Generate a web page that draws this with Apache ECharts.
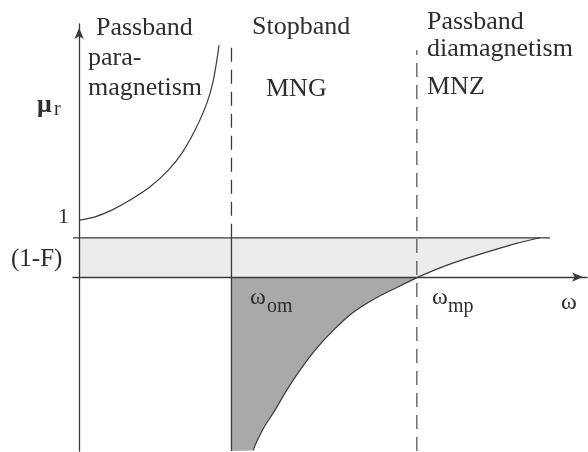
<!DOCTYPE html>
<html>
<head>
<meta charset="utf-8">
<script src="https://cdn.jsdelivr.net/npm/echarts@6/dist/echarts.min.js"></script>
<style>
  html, body { margin: 0; padding: 0; background: #fff; }
  #chart { width: 588px; height: 452px; }
</style>
</head>
<body>
<div id="chart"></div>
<script>
// Magnetic permeability mu_r versus frequency omega (Lorentz-type dispersion).
const xRange = [-0.12, 10];
const yRange = [-3.05, 4.44];

// Characteristic levels
const omegaOm = 3.0;      // magnetic resonance frequency
const omegaMp = 6.65;     // magnetic plasma frequency
const oneMinusF = 0.69;   // high-frequency limit (1-F)

// Branch below resonance: paramagnetic passband, mu_r > 1
const lowBranch = [
  [0, 1.0], [0.315, 1.058], [0.644, 1.175], [1.004, 1.351], [1.398, 1.584],
  [1.758, 1.877], [2.022, 2.170], [2.283, 2.579], [2.514, 3.047],
  [2.644, 3.456], [2.756, 4.070]
];

// Branch above resonance: negative in the stopband, rising towards (1-F)
const highBranchNeg = [
  [3.43, -3.04], [3.465, -2.947], [3.628, -2.654], [3.858, -2.333],
  [4.089, -1.982], [4.350, -1.632], [4.646, -1.281], [4.974, -0.960],
  [5.368, -0.637], [5.827, -0.374], [6.285, -0.170], [6.67, 0]
];
const highBranchPos = [
  [6.67, 0], [7.106, 0.163], [7.632, 0.328], [8.156, 0.474],
  [8.616, 0.591], [9.075, 0.69]
];
const limitLineEnd = 9.27;

const lineColor = '#3a3a3a';
const textColor = '#2e2e2e';
const serif = '"Liberation Serif", "DejaVu Serif", serif';

// Shaded regions built from the curve points above
const bandPoly = [[0, 0], [0, oneMinusF]].concat(highBranchPos.slice().reverse());
const negPoly = [[omegaOm, 0], [omegaOm, yRange[0]]].concat(highBranchNeg);

function polygonSeries(points, fill) {
  return {
    type: 'custom',
    silent: true,
    clip: true,
    z: 1,
    data: [0],
    renderItem: function (params, api) {
      return {
        type: 'polygon',
        shape: { points: points.map(function (p) { return api.coord(p); }), smooth: 0 },
        style: { fill: fill, stroke: null }
      };
    }
  };
}

function lineSeries(data, type, width, smooth) {
  return {
    type: 'line',
    data: data,
    showSymbol: false,
    symbol: 'none',
    silent: true,
    smooth: smooth || false,
    z: 3,
    lineStyle: { color: lineColor, width: width || 1.3, type: type || 'solid' }
  };
}

function label(text, x, baseline, size, weight) {
  return {
    type: 'text',
    silent: true,
    z: 10,
    x: x,
    y: baseline - 0.3 * size,
    style: {
      text: text,
      fill: textColor,
      font: (weight ? weight + ' ' : '') + size + 'px ' + serif,
      textAlign: 'left',
      textVerticalAlign: 'middle',
      align: 'left',
      verticalAlign: 'middle'
    }
  };
}

const chart = echarts.init(document.getElementById('chart'), null, { renderer: 'canvas' });

chart.setOption({
  animation: false,
  backgroundColor: '#ffffff',
  grid: { left: 73, right: 1, top: 24, bottom: 1, containLabel: false },
  xAxis: {
    type: 'value',
    min: xRange[0],
    max: xRange[1],
    z: 5,
    axisLine: {
      onZero: true,
      symbol: ['none', 'arrow'],
      symbolSize: [7, 11],
      symbolOffset: [0, -4],
      lineStyle: { color: lineColor, width: 1.3 }
    },
    axisTick: { show: false },
    axisLabel: { show: false },
    splitLine: { show: false }
  },
  yAxis: {
    type: 'value',
    min: yRange[0],
    max: yRange[1],
    z: 5,
    axisLine: {
      onZero: true,
      symbol: ['none', 'arrow'],
      symbolSize: [7, 11],
      symbolOffset: [0, -4],
      lineStyle: { color: lineColor, width: 1.3 }
    },
    axisTick: { show: false },
    axisLabel: { show: false },
    splitLine: { show: false }
  },
  series: [
    polygonSeries(bandPoly, '#ececec'),
    polygonSeries(negPoly, '#a9a9a9'),
    lineSeries([[xRange[0], oneMinusF], [limitLineEnd, oneMinusF]]),
    lineSeries([[omegaOm, yRange[0]], [omegaOm, oneMinusF]]),
    lineSeries([[omegaOm, oneMinusF], [omegaOm, 4.1]], [14, 8]),
    lineSeries([[omegaMp, yRange[0]], [omegaMp, 3.98]], [14, 8], 1.1),
    lineSeries(lowBranch, 'solid', 1.2, 0.3),
    lineSeries(highBranchNeg, 'solid', 1.2, 0.3),
    lineSeries(highBranchPos, 'solid', 1.2, 0.3)
  ],
  graphic: [
    label('Passband', 96, 36, 26),
    label('para-', 88, 66, 26),
    label('magnetism', 88, 96, 26),
    label('Stopband', 252, 35, 26),
    label('MNG', 266, 97, 26),
    label('Passband', 427, 30, 26),
    label('diamagnetism', 427, 57, 26),
    label('MNZ', 427, 95, 26),
    label('μ', 37, 113, 26, 'bold'),
    label('r', 54, 116, 20),
    label('1', 58, 224, 22),
    label('(1-F)', 11, 267, 25),
    label('ω', 250, 305, 24),
    label('om', 267, 313, 20),
    label('ω', 432, 305, 24),
    label('mp', 448, 313, 20),
    label('ω', 561, 310, 24)
  ]
});
</script>
</body>
</html>
